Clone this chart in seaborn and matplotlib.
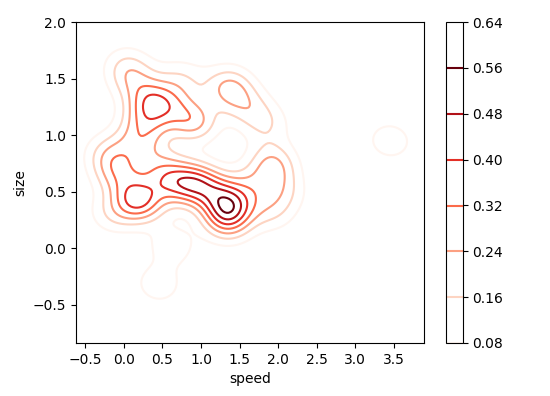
import numpy as np
import pandas as pd
import matplotlib
matplotlib.use("Agg")
import matplotlib.pyplot as plt
from matplotlib.ticker import MultipleLocator
import seaborn as sns
from seaborn._statistics import KDE

speed = [1.33, 1.33, 1.33, 1.33, 1.39,
         0.55, 0.72, 0.90, 1.08, 0.50, 0.95,
         0.21, 0.17, 0.21, -0.05, -0.12,
         0.18, 0.24, 0.30,
         0.36, 0.36, 0.10,
         0.62,
         0.90, 0.90,
         1.37, 1.37,
         1.93, 1.93, 1.84, 1.62, 1.90,
         0.45, 0.62,
         -0.20, 0.05, 0.75, 1.62, 2.05, -0.15,
         3.45]
size = [0.20, 0.28, 0.36, 0.44, 0.38,
        0.60, 0.54, 0.60, 0.55, 0.72, 0.56,
        0.42, 0.44, 0.40, 0.62, 0.72,
        0.90, 1.03, 1.16,
        1.26, 1.34, 1.48,
        1.28,
        1.10, 1.14,
        1.46, 1.38,
        0.79, 0.69, 1.10, 0.55, 0.32,
        -0.32, 0.02,
        0.85, 1.62, 1.50, 1.25, 0.50, 0.30,
        0.95]

density_levels = [0.08, 0.16, 0.24, 0.32, 0.40, 0.48, 0.56]
cbar_ticks = [0.08, 0.16, 0.24, 0.32, 0.40, 0.48, 0.56, 0.64]
bw_adjust = 0.55

df = pd.DataFrame({"speed": speed, "size": size})

# seaborn wants iso-proportions, so convert the density values into them
kde = KDE(bw_adjust=bw_adjust)
dens, _ = kde(df["speed"].to_numpy(float), df["size"].to_numpy(float))
vals = np.sort(dens.ravel())[::-1]
cum = np.cumsum(vals) / vals.sum()
props = [float(1 - cum[max((vals >= lv).sum() - 1, 0)]) for lv in density_levels]

fig = plt.figure(figsize=(5.5, 3.96), dpi=100)
ax = fig.add_axes([0.138, 0.134, 0.633, 0.81])
cax = fig.add_axes([0.811, 0.134, 0.030, 0.81])

sns.kdeplot(data=df, x="speed", y="size", levels=props, bw_adjust=bw_adjust,
            cmap="Reds", cbar=True, cbar_ax=cax,
            cbar_kws={"ticks": cbar_ticks, "format": "%.2f",
                      "spacing": "proportional"}, ax=ax)

cax.set_ylim(0.08, 0.64)
ax.set_xlim(-0.62, 3.89)
ax.set_ylim(-0.84, 2.0)
ax.xaxis.set_major_locator(MultipleLocator(0.5))
ax.yaxis.set_major_locator(MultipleLocator(0.5))

fig.savefig("out.png", dpi=100)
